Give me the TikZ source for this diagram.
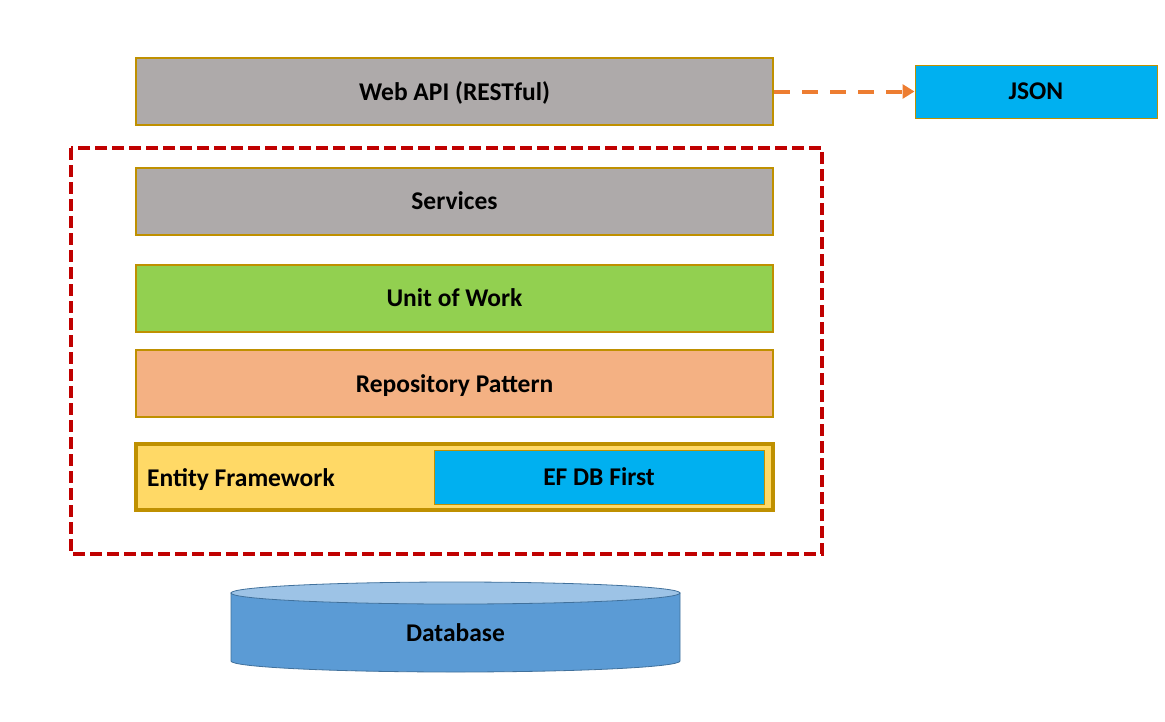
\documentclass[tikz,border=0pt]{standalone}
\usepackage{fontspec}
\setmainfont{Carlito}
\usetikzlibrary{arrows.meta}
\definecolor{gold}{HTML}{BF9000}
\definecolor{grayfill}{HTML}{AEAAAA}
\definecolor{cyanfill}{HTML}{00B0F0}
\definecolor{greenfill}{HTML}{92D050}
\definecolor{peach}{HTML}{F4B183}
\definecolor{yellowfill}{HTML}{FFD966}
\definecolor{darkred}{HTML}{C00000}
\definecolor{orangeline}{HTML}{ED7D31}
\definecolor{dbbody}{HTML}{5B9BD5}
\definecolor{dbtop}{HTML}{9DC3E6}
\definecolor{dbline}{HTML}{41719C}
\tikzset{
  layer/.style={draw=gold, line width=2pt, minimum width=637pt, minimum height=67pt,
    inner sep=0pt, text depth=0pt, font=\fontsize{25.5}{30}\selectfont\bfseries},
  cyanbox/.style={draw=gold, line width=1pt, fill=cyanfill, inner sep=0pt, text depth=0pt,
    font=\fontsize{25.5}{30}\selectfont\bfseries},
  lbl/.style={inner sep=0pt, text depth=0pt, font=\fontsize{25.5}{30}\selectfont\bfseries},
}
\begin{document}
\begin{tikzpicture}[x=1pt,y=-1pt]
\useasboundingbox (0,0) rectangle (1165,721);
% red dashed container
\draw[darkred, line width=3.5pt, dash pattern=on 12pt off 5pt] (71,148) rectangle (822,554);
% layers
\node[layer, fill=grayfill] (api) at (454.5,91.5) {Web API (RESTful)};
\node[cyanbox, minimum width=242pt, minimum height=53pt] (json) at (1036,91.5) {JSON};
\draw[orangeline, line width=4pt, dash pattern=on 16pt off 12pt, -{Triangle[length=12pt,width=14pt]}] (api.east) -- (json.west);
\node[layer, fill=grayfill] (svc) at (454.5,201) {Services};
\node[layer, fill=greenfill] (uow) at (454.5,298) {Unit of Work};
\node[layer, fill=peach] (repo) at (454.5,383.5) {Repository Pattern};
\node[layer, fill=yellowfill, line width=4pt, minimum height=66pt] (ef) at (454.5,477) {};
\node[lbl, anchor=west] (eftext) at (147,478) {Entity Framework};
\node[cyanbox, minimum width=330pt, minimum height=54pt] (efdb) at (599,477) {EF DB First};
% database cylinder
\draw[dbline, line width=0.8pt, fill=dbbody] (231,593) -- (231,661)
  arc[start angle=180, end angle=0, x radius=224.5, y radius=11] -- (680,593) -- cycle;
\draw[dbline, line width=0.8pt, fill=dbtop] (455.5,593) ellipse[x radius=224.5, y radius=11];
\node[lbl] (db) at (455.5,633) {Database};
\end{tikzpicture}
\end{document}
